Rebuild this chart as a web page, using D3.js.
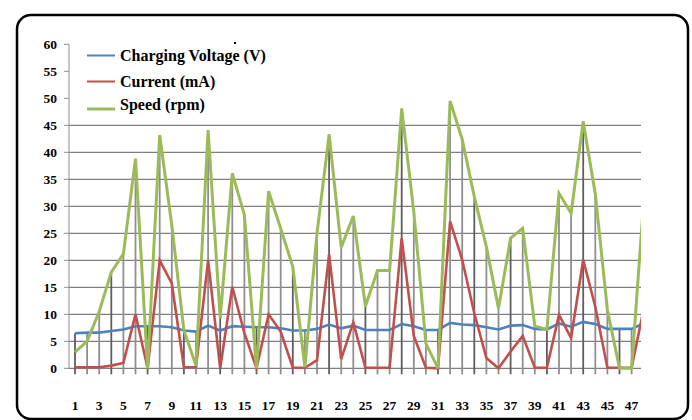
<!DOCTYPE html>
<html>
<head>
<meta charset="utf-8">
<script src="https://cdn.jsdelivr.net/npm/d3@7"></script>
<style>
body{margin:0;background:#fff;}
svg{display:block;}
text{font-family:"Liberation Serif","Times New Roman",serif;font-weight:bold;}
</style>
</head>
<body>
<svg id="chart" width="692" height="420"></svg>
<script>
// sample number 1..48
var samples = d3.range(1, 49);
var voltage = [6.5,6.6,6.6,6.9,7.2,7.8,7.8,7.8,7.6,7.0,6.8,7.9,
               7.0,7.8,7.7,7.6,7.6,7.4,7.0,7.0,7.3,8.1,7.4,7.9,
               7.1,7.1,7.1,8.2,7.8,7.1,7.1,8.4,8.1,8.0,7.6,7.2,
               7.9,8.0,7.3,7.2,8.3,7.7,8.6,8.2,7.3,7.3,7.3,8.3];
var current = [0.2,0.2,0.2,0.5,1,10,0,20,15.7,0.2,0.2,20,
               0,15.1,6.5,0,10,6.8,0.1,0.1,1.5,21.1,1.7,8.5,
               0.1,0.1,0.1,24.1,6.0,0.1,0,27.2,20.1,10.2,1.9,0,
               3.1,6.0,0.1,0.1,9.9,5.6,20.1,11.4,0.1,0.1,0.1,11];
var speed = [3,5,10.5,17.8,21.2,38.8,0,43.2,26.5,7,0.5,44.1,
             9.3,36.1,28.4,0,32.8,25.9,18.8,0.2,25,43.3,22.4,28.2,
             11.5,18.1,18.1,48.1,29,4.6,0,49.5,42.4,31.8,22.5,11.1,
             24.1,25.9,7.8,7.2,32.4,28.7,45.7,32.3,10.8,0,0,31];
var yTicks = d3.range(0, 61, 5);
var gridTicks = d3.range(0, 46, 5);
var xLabels = samples.filter(function(d){ return d % 2 == 1; });
var legendNames = ["Charging Voltage (V)", "Current (mA)", "Speed (rpm)"];
var colors = ["#4F81BD", "#C0504D", "#9BBB59"];

var svg = d3.select("#chart");
var left = 69, right = 641;

// frame
svg.append("rect")
  .attr("x", 17).attr("y", 15).attr("width", 671).attr("height", 404)
  .attr("rx", 14).attr("ry", 14)
  .attr("fill", "#fff").attr("stroke", "#000").attr("stroke-width", 2.5);

var x = d3.scaleLinear().domain([1, 48]).range([75, 75 + 47 * 12.1]);
var y = d3.scaleLinear().domain([0, 60]).range([368.3, 44.3]);

svg.append("clipPath").attr("id", "plotclip")
  .append("rect").attr("x", left - 2).attr("y", 30).attr("width", right - left + 2).attr("height", 350);

// horizontal gridlines (none drawn above 45)
svg.append("g").selectAll("line")
  .data(gridTicks).enter().append("line")
  .attr("x1", left).attr("x2", right)
  .attr("y1", function(d){ return y(d); }).attr("y2", function(d){ return y(d); })
  .attr("stroke", "#7f7f7f").attr("stroke-width", 1.2);

// y axis line and ticks
svg.append("line")
  .attr("x1", left).attr("x2", left).attr("y1", y(60)).attr("y2", y(0))
  .attr("stroke", "#8c8c8c").attr("stroke-width", 1);
svg.append("g").selectAll("line")
  .data(yTicks).enter().append("line")
  .attr("x1", left - 5).attr("x2", left)
  .attr("y1", function(d){ return y(d); }).attr("y2", function(d){ return y(d); })
  .attr("stroke", "#8c8c8c").attr("stroke-width", 1);
svg.append("g").selectAll("text")
  .data(yTicks).enter().append("text")
  .attr("x", 57).attr("y", function(d){ return y(d); })
  .attr("dy", "0.35em").attr("text-anchor", "end")
  .style("font-size", "13.5px")
  .text(function(d){ return d; });

// drop lines from axis to highest point
var plot = svg.append("g").attr("clip-path", "url(#plotclip)");
plot.selectAll("line.drop")
  .data(samples).enter().append("line")
  .attr("class", "drop")
  .attr("x1", function(d){ return x(d); }).attr("x2", function(d){ return x(d); })
  .attr("y1", y(0) + 6)
  .attr("y2", function(d, i){ return y(Math.max(voltage[i], current[i], speed[i])); })
  .attr("stroke", function(d, i){ return i % 3 == 0 ? "#5e5e5e" : "#8f8f8f"; })
  .attr("stroke-width", 1.8);

// series lines
var line = d3.line()
  .x(function(d, i){ return x(samples[i]); })
  .y(function(d){ return y(d); });
var series = [voltage, current, speed];
var widths = [2.6, 2.6, 3];
series.forEach(function(s, k){
  plot.append("path")
    .datum(s)
    .attr("fill", "none")
    .attr("stroke", colors[k])
    .attr("stroke-width", widths[k])
    .attr("d", line);
});

// x labels
svg.append("g").selectAll("text")
  .data(xLabels).enter().append("text")
  .attr("x", function(d){ return x(d); }).attr("y", 405)
  .attr("dy", "0.35em").attr("text-anchor", "middle")
  .style("font-size", "13.5px")
  .text(function(d){ return d; });

// legend
var legendY = [55.5, 81.5, 107];
var legend = svg.append("g");
legendNames.forEach(function(name, k){
  legend.append("line")
    .attr("x1", 87).attr("x2", 115)
    .attr("y1", legendY[k] + (k == 2 ? 2 : 0)).attr("y2", legendY[k] + (k == 2 ? 2 : 0))
    .attr("stroke", colors[k]).attr("stroke-width", k == 2 ? 3 : 2);
  legend.append("text")
    .attr("x", 120).attr("y", legendY[k] + (k == 2 ? -3 : 0)).attr("dy", "0.35em")
    .style("font-size", "16px")
    .text(name);
});
// stray dot above legend
svg.append("rect").attr("x", 234).attr("y", 42).attr("width", 2).attr("height", 2).attr("fill", "#000");
</script>
</body>
</html>
